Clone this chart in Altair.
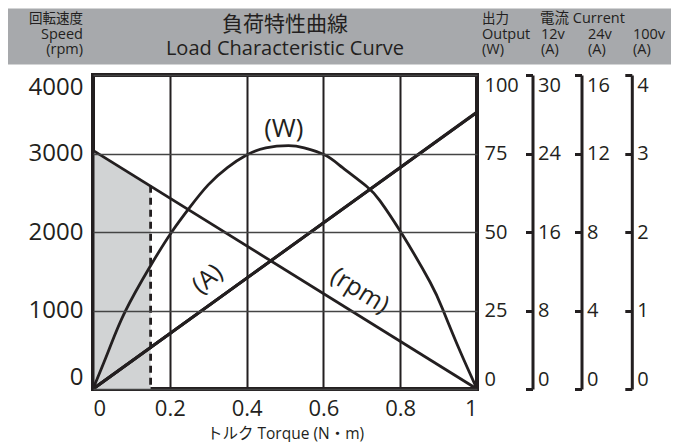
import altair as alt
import pandas as pd

# ---------------- data ----------------
x_ticks = [0, 0.2, 0.4, 0.6, 0.8, 1]
rpm_ticks = [0, 1000, 2000, 3000, 4000]
w_ticks = [0, 25, 50, 75, 100]
a12_ticks = [0, 8, 16, 24, 32]     # top label printed as "30" in the original
a24_ticks = [0, 4, 8, 12, 16]
a100_ticks = [0, 1, 2, 3, 4]

# Output (W) curve
power_torque = [0, 0.04, 0.083, 0.151, 0.205, 0.253, 0.3, 0.35, 0.4, 0.45, 0.509,
                0.55, 0.604, 0.65, 0.713, 0.747, 0.804, 0.878, 0.912, 0.956, 1.0]
power_w = [0, 12, 24.5, 39.5, 50, 58, 65, 70.5, 74.5, 76.8, 77.5,
           76.8, 74.5, 70.5, 64.5, 60, 49.5, 34, 25, 12, 0]

# Speed (rpm) line
speed_torque = [0, 1]
speed_rpm = [3040, 0]

# Current (A) line, read on each current axis
current_torque = [0, 1]
current_12v = [0, 28.2]
current_24v = [0, 14.1]
current_100v = [0, 3.53]

# Rated region (shaded) and rated torque marker
rated_torque = [0, 0.15]
rated_rpm = [3040, 2590]

FONT = "'Open Sans', 'Noto Sans CJK JP', sans-serif"
CJK = "'Noto Sans CJK JP', 'Open Sans', sans-serif"
INK = "#231f20"
W, H = 384, 314

power_df = pd.DataFrame({"t": power_torque, "w": power_w})
speed_df = pd.DataFrame({"t": speed_torque, "rpm": speed_rpm})
cur_df = pd.DataFrame({"t": current_torque, "a12": current_12v,
                       "a24": current_24v, "a100": current_100v})
rated_df = pd.DataFrame({"t": rated_torque, "rpm": rated_rpm})
marker_df = rated_df.tail(1)
one = alt.Data(values=[{"k": 0}])

x_scale = alt.Scale(domain=[0, 1], nice=False)
rpm_dom = [0, 4000]

x_axis = alt.Axis(values=x_ticks, format="~g", grid=True, gridColor=INK, gridWidth=2,
                  ticks=False, domain=False, labelFlush=True, labelPadding=9,
                  labelFontSize=22, title="トルク Torque (N・m)", titleFontSize=15.5,
                  titleFontWeight="normal", titleY=49.5, titleBaseline="alphabetic",
                  titleX=W / 2, titleAlign="center", zindex=1)
rpm_axis = alt.Axis(orient="left", values=rpm_ticks, format="d", grid=True,
                    gridColor="#444444", gridWidth=1.3, ticks=False, domain=False,
                    labelFlush=True, labelPadding=10, labelFontSize=24, title=None,
                    zindex=1)


def right_scale_axis(vals, offset, expr=None):
    kw = dict(orient="left", offset=offset, values=vals, format="d", grid=False,
              domain=True, domainColor=INK, domainWidth=3, ticks=True, tickSize=7,
              tickWidth=3, tickColor=INK, labelAlign="left", labelPadding=-12,
              labelFlush=True, labelFontSize=20, title=None)
    if expr:
        kw["labelExpr"] = expr
    return alt.Axis(**kw)


def X(field="t:Q"):
    return alt.X(field, scale=x_scale, axis=x_axis)


def rpm_y(field):
    return alt.Y(field, scale=alt.Scale(domain=rpm_dom, nice=False), axis=None)


band = alt.Chart(one).mark_rect(color="#a7a9ac").encode(
    x=alt.value(-85), x2=alt.value(578), y=alt.value(-66.5), y2=alt.value(-10.5))

area = alt.Chart(rated_df).mark_area(color="#d1d3d4").encode(
    x=X(),
    y=alt.Y("rpm:Q", scale=alt.Scale(domain=rpm_dom, nice=False), axis=rpm_axis))

speed_line = alt.Chart(speed_df).mark_line(color=INK, strokeWidth=2.8).encode(
    x=X(), y=rpm_y("rpm:Q"))

marker = alt.Chart(marker_df).mark_rule(color=INK, strokeWidth=2.8, strokeDash=[7, 5]).encode(
    x=X(), y=rpm_y("rpm:Q"), y2=alt.datum(0))


def note(text, tx, ry, size, angle=0):
    return alt.Chart(one).mark_text(text=text, fontSize=size, font=FONT, color=INK,
                                    angle=angle, align="center", baseline="middle").encode(
        x=alt.XDatum(tx, scale=x_scale, axis=x_axis),
        y=alt.YDatum(ry, scale=alt.Scale(domain=rpm_dom, nice=False), axis=None))


def head(text, px, py, size, align="left", font=FONT):
    return alt.Chart(one).mark_text(text=text, fontSize=size, font=font, color=INK,
                                    align=align, baseline="alphabetic").encode(
        x=alt.value(px), y=alt.value(py))


notes = [note("(W)", 0.497, 3318, 26), note("(A)", 0.298, 1401, 25, 320),
         note("(rpm)", 0.695, 1255, 25, 32)]

heads = [
    head("回転速度", -10, -52, 13.5, "right", CJK),
    head("Speed", -10, -36.5, 14.5, "right"),
    head("(rpm)", -10, -21.5, 14.5, "right"),
    head("負荷特性曲線", W / 2, -44, 21, "center", CJK),
    head("Load Characteristic Curve", W / 2, -20, 20, "center"),
    head("出力", 389, -52, 13.5, "left", CJK),
    head("Output", 389, -36.5, 14.5),
    head("(W)", 389, -21.5, 14.5),
    head("電流 Current", 447, -52, 14.5),
    head("12v", 448, -36.5, 14.5),
    head("24v", 495, -36.5, 14.5),
    head("100v", 540, -36.5, 14.5),
    head("(A)", 448, -21.5, 14.5),
    head("(A)", 495, -21.5, 14.5),
    head("(A)", 540, -21.5, 14.5),
]

w_layer = alt.Chart(power_df).mark_line(color=INK, strokeWidth=2.8, interpolate="natural").encode(
    x=X(),
    y=alt.Y("w:Q", scale=alt.Scale(domain=[0, 100], nice=False),
            axis=alt.Axis(orient="right", values=w_ticks, grid=False, domain=False,
                          ticks=False, labelPadding=7, labelFlush=True,
                          labelFontSize=20, title=None)))


def cur_layer(field, dom, vals, offset, expr=None):
    return alt.Chart(cur_df).mark_line(color=INK, strokeWidth=2.8).encode(
        x=X(),
        y=alt.Y(f"{field}:Q", scale=alt.Scale(domain=dom, nice=False),
                axis=right_scale_axis(vals, offset, expr)))


l12 = cur_layer("a12", [0, 32], a12_ticks, -439.5, "datum.value == 32 ? '30' : datum.label")
l24 = cur_layer("a24", [0, 16], a24_ticks, -488.5)
l100 = cur_layer("a100", [0, 4], a100_ticks, -538.8)

chart = alt.layer(
    band, area, w_layer, l12, l24, l100, speed_line, marker, *notes, *heads
).resolve_scale(
    y="independent"
).properties(
    width=W, height=H, padding=0, background="white"
).configure_view(
    stroke=INK, strokeWidth=4
).configure_axis(
    labelFont=FONT, labelColor=INK, titleFont=FONT, titleColor=INK
)

chart.save("out.html", embed_options={"renderer": "svg", "actions": False})
